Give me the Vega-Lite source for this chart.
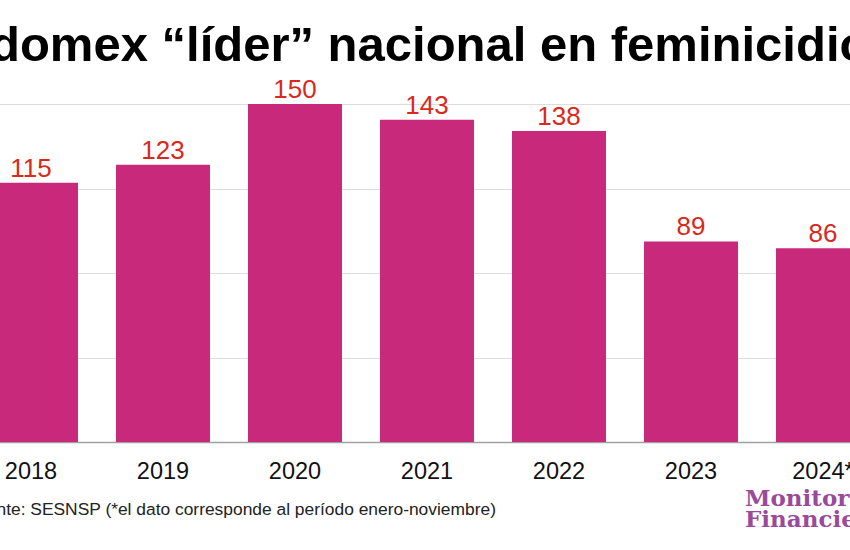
{
  "$schema": "https://vega.github.io/schema/vega-lite/v6.json",
  "width": 924,
  "height": 338,
  "autosize": {"type": "none"},
  "padding": {"left": -35, "top": 104, "right": -39, "bottom": 108},
  "background": "white",
  "title": {
    "text": "Edomex “líder” nacional en feminicidios",
    "font": "Liberation Sans",
    "fontSize": 49,
    "fontWeight": "bold",
    "color": "#000000",
    "anchor": "middle",
    "frame": "group",
    "offset": 6
  },
  "config": {"view": {"stroke": null}},
  "layer": [
    {
      "data": {"values": [
        {"anio": "2018", "casos": 115},
        {"anio": "2019", "casos": 123},
        {"anio": "2020", "casos": 150},
        {"anio": "2021", "casos": 143},
        {"anio": "2022", "casos": 138},
        {"anio": "2023", "casos": 89},
        {"anio": "2024*", "casos": 86}
      ]},
      "layer": [
        {
          "mark": {"type": "bar", "color": "#c8297a"},
          "encoding": {
            "x": {
              "field": "anio", "type": "nominal", "sort": null,
              "scale": {"domain": ["2018","2019","2020","2021","2022","2023","2024*"], "paddingInner": 0.288, "paddingOuter": 0.144},
              "axis": {
                "title": "Fuente: SESNSP (*el dato corresponde al período enero-noviembre)",
                "titleFont": "Liberation Sans", "titleFontSize": 17.4, "titleFontWeight": "normal", "titleColor": "#222222",
                "titleAnchor": "start", "titleAlign": "left", "titleBaseline": "alphabetic",
                "titleX": 1, "titleY": 72,
                "labelAngle": 0, "labelFont": "Liberation Sans", "labelFontSize": 23.5, "labelColor": "#111111",
                "labelBaseline": "alphabetic", "labelPadding": 36, "ticks": false, "tickSize": 0,
                "domainColor": "#a0a0a0", "domainWidth": 1.5, "grid": false
              }
            },
            "y": {
              "field": "casos", "type": "quantitative",
              "scale": {"domain": [0, 150], "nice": false, "zero": true},
              "axis": {
                "title": null, "labels": false, "ticks": false, "domain": false,
                "values": [0, 37.5, 75, 112.5, 150],
                "grid": true, "gridColor": "#dddddd", "gridWidth": 1
              }
            }
          }
        },
        {
          "mark": {"type": "text", "font": "Liberation Sans", "fontSize": 26, "color": "#d9281c", "baseline": "alphabetic", "dy": -6},
          "encoding": {
            "x": {"field": "anio", "type": "nominal", "sort": null},
            "y": {"field": "casos", "type": "quantitative"},
            "text": {"field": "casos", "type": "quantitative"}
          }
        }
      ]
    },
    {
      "data": {"values": [
        {"anio": "2024*", "pos": -28.5, "txt": "Monitor"},
        {"anio": "2024*", "pos": -37.8, "txt": "Financiero"}
      ]},
      "mark": {"type": "text", "font": "DejaVu Serif", "fontWeight": "bold", "fontSize": 23, "color": "#9a4a9a", "align": "left", "baseline": "alphabetic", "dx": -78},
      "encoding": {
        "x": {"field": "anio", "type": "nominal", "sort": null},
        "y": {"field": "pos", "type": "quantitative"},
        "text": {"field": "txt", "type": "nominal"}
      }
    }
  ]
}
